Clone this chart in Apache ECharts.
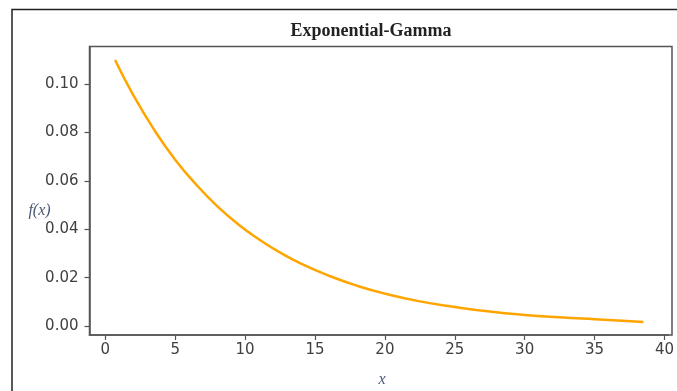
<!DOCTYPE html>
<html>
<head>
<meta charset="utf-8">
<script src="https://cdn.jsdelivr.net/npm/echarts@6/dist/echarts.min.js"></script>
<style>
html,body{margin:0;padding:0;background:#fff;}
#chart{width:677px;height:391px;}
</style>
</head>
<body>
<div id="chart"></div>
<script>
var xValues = [0.7, 2, 3.5, 5, 6.5, 8, 9.5, 11, 12.5, 14, 16, 18, 20, 22.5, 25, 27.5, 30, 32.5, 35, 37, 38.5];
var fValues = [0.110, 0.0955, 0.0811, 0.0688, 0.0585, 0.0496, 0.0421, 0.0358, 0.0304, 0.0258, 0.0208, 0.0167, 0.0134, 0.0102, 0.0079, 0.0060, 0.0046, 0.0036, 0.0028, 0.0022, 0.0017];
var xTicks = [0, 5, 10, 15, 20, 25, 30, 35, 40];
var yTicks = [0, 0.02, 0.04, 0.06, 0.08, 0.10];
var titleText = 'Exponential-Gamma';
var xLabel = 'x';
var yLabel = 'f(x)';

var points = xValues.map(function (x, i) { return [x, fValues[i]]; });
var chart = echarts.init(document.getElementById('chart'), null, {renderer: 'canvas'});
var axisColor = '#555';
var labelColor = '#404040';
chart.setOption({
  animation: false,
  backgroundColor: '#fff',
  title: {
    text: titleText,
    left: 366, top: 17,
    textAlign: 'center',
    textStyle: {fontFamily: 'Liberation Serif', fontWeight: 'bold', fontSize: 18, color: '#222'}
  },
  grid: {left: 89.5, right: 5, top: 46.5, bottom: 56},
  xAxis: {
    type: 'value',
    min: -1.13, max: 40.3,
    splitLine: {show: false},
    axisLine: {show: true, onZero: false, lineStyle: {color: axisColor, width: 1.5}},
    axisTick: {show: true, customValues: xTicks, length: 5, lineStyle: {color: axisColor, width: 1.2}},
    axisLabel: {customValues: xTicks, margin: 8, fontFamily: 'DejaVu Sans', fontSize: 15, color: labelColor,
      formatter: function (v) { return String(v); }}
  },
  yAxis: {
    type: 'value',
    min: -0.0037, max: 0.1156,
    splitLine: {show: false},
    axisLine: {show: true, onZero: false, lineStyle: {color: axisColor, width: 1.5}},
    axisTick: {show: true, customValues: yTicks, length: 5, lineStyle: {color: axisColor, width: 1.2}},
    axisLabel: {customValues: yTicks, margin: 11, fontFamily: 'DejaVu Sans', fontSize: 15, color: labelColor,
      formatter: function (v) { return v.toFixed(2); }}
  },
  graphic: [
    {type: 'rect', shape: {x: 12, y: 9.5, width: 720, height: 420}, style: {fill: 'none', stroke: '#222', lineWidth: 1.5}, silent: true},
    {type: 'rect', shape: {x: 89.5, y: 46.5, width: 582.5, height: 288.5}, style: {fill: 'none', stroke: axisColor, lineWidth: 1.5}, silent: true, z: 10},
    {type: 'text', x: 39.5, y: 211, style: {text: yLabel, font: 'italic 16px "Liberation Serif"', fill: '#4a5878', align: 'center', verticalAlign: 'middle'}},
    {type: 'text', x: 382, y: 380, style: {text: xLabel, font: 'italic 16px "Liberation Serif"', fill: '#4a5878', align: 'center', verticalAlign: 'middle'}}
  ],
  series: [{
    type: 'line',
    data: points,
    smooth: true,
    showSymbol: false,
    lineStyle: {color: '#FFA500', width: 2.5}
  }]
});
</script>
</body>
</html>
